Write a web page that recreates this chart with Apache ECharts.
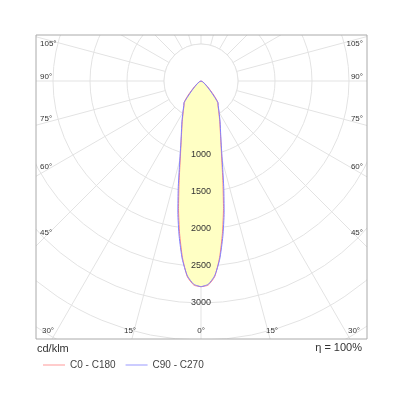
<!DOCTYPE html>
<html><head><meta charset="utf-8">
<script src="https://cdn.jsdelivr.net/npm/echarts@6/dist/echarts.min.js"></script>
<style>html,body{margin:0;background:#fff}#c{width:400px;height:400px}</style>
</head><body><div id="c"></div>
<script>
// half curves (gamma angle in degrees, cd/klm), mirrored for the other side
var gammaDeg = [0, 2, 4, 6, 8, 10, 12, 14, 16, 18, 20, 25, 30, 35, 38, 39, 90, 180];
var c0Vals   = [2780, 2760, 2650, 2400, 2080, 1750, 1430, 1180, 1000, 870, 770, 600, 480, 400, 370, 0, 0, 0];
var c90Vals  = [2780, 2750, 2640, 2420, 2120, 1800, 1480, 1210, 1020, 880, 780, 610, 490, 405, 372, 0, 0, 0];
var radialTicks = [1000, 1500, 2000, 2500, 3000];
var angleTicks = [0, 15, 30, 45, 60, 75, 90, 105];

var cx = 201, cy = 81, pxPer500 = 37, rMax = 5000;
var box = {x: 36, y: 35, w: 331, h: 304};

function curve(vals) {
  var pts = [];
  for (var i = 0; i < gammaDeg.length; i++) pts.push([vals[i], gammaDeg[i]]);
  for (var j = gammaDeg.length - 2; j >= 0; j--) pts.push([vals[j], 360 - gammaDeg[j]]);
  return pts;
}

var graphics = [];
var W = '#fff';
[[0, 0, 400, box.y], [0, box.y + box.h, 400, 400], [0, 0, box.x, 400], [box.x + box.w, 0, 400, 400]].forEach(function (r) {
  graphics.push({type: 'rect', z: 100, shape: {x: r[0], y: r[1], width: r[2], height: r[3]}, style: {fill: W}});
});
graphics.push({type: 'rect', z: 101, shape: {x: box.x, y: box.y, width: box.w, height: box.h}, style: {fill: 'none', stroke: '#aaa', lineWidth: 1}});
graphics.push({type: 'circle', z: 1, shape: {cx: cx, cy: cy, r: pxPer500}, style: {fill: '#fff', stroke: '#e3e3e3', lineWidth: 1}});
radialTicks.forEach(function (v) {
  graphics.push({type: 'text', z: 50, x: cx, y: cy + v / 500 * pxPer500, style: {text: String(v), fill: '#333', font: '9px Arial', textAlign: 'center', textVerticalAlign: 'middle'}});
});
var lf = '8px Arial';
angleTicks.forEach(function (a) {
  var t = a * Math.PI / 180, dx = Math.sin(t), dy = Math.cos(t);
  var bottom = box.y + box.h - 8;
  var right = box.x + box.w - 10;
  var y = cy + dy * ((right - cx) / (dx || 1e-9));
  if (dx === 0 || y > bottom) {
    var x = Math.min((bottom - cy) / dy * dx * 1.06, cx - box.x - 10);
    graphics.push({type: 'text', z: 102, x: cx + x, y: bottom, style: {text: a + '°', fill: '#333', font: lf, textAlign: 'center', textVerticalAlign: 'middle'}});
    if (a) graphics.push({type: 'text', z: 102, x: cx - x, y: bottom, style: {text: a + '°', fill: '#333', font: lf, textAlign: 'center', textVerticalAlign: 'middle'}});
  } else {
    y = Math.max(y - 4, box.y + 9);
    graphics.push({type: 'text', z: 102, x: box.x + 4, y: y, style: {text: a + '°', fill: '#333', font: lf, textAlign: 'left', textVerticalAlign: 'middle'}});
    graphics.push({type: 'text', z: 102, x: box.x + box.w - 4, y: y, style: {text: a + '°', fill: '#333', font: lf, textAlign: 'right', textVerticalAlign: 'middle'}});
  }
});
graphics.push({type: 'text', z: 102, x: 37, y: 349, style: {text: 'cd/klm', fill: '#333', font: '11px Arial', textVerticalAlign: 'middle'}});
graphics.push({type: 'text', z: 102, x: 362, y: 348, style: {text: 'η = 100%', fill: '#333', font: '11px Arial', textAlign: 'right', textVerticalAlign: 'middle'}});

var chart = echarts.init(document.getElementById('c'));
chart.setOption({
  animation: false,
  polar: {center: [cx, cy], radius: rMax / 500 * pxPer500},
  angleAxis: {
    type: 'value', min: 0, max: 360, interval: 15, startAngle: -90, clockwise: true,
    axisLine: {show: false}, axisTick: {show: false}, axisLabel: {show: false},
    splitLine: {lineStyle: {color: '#e3e3e3', width: 1}}
  },
  radiusAxis: {
    min: 0, max: rMax, interval: 500,
    axisLine: {show: false}, axisTick: {show: false}, axisLabel: {show: false},
    splitLine: {lineStyle: {color: '#e3e3e3', width: 1}}
  },
  legend: {
    left: 38, top: 355, itemWidth: 22, itemHeight: 1, itemGap: 10, icon: 'rect',
    textStyle: {fontSize: 10, color: '#444', fontFamily: 'Arial'},
    data: ['C0 - C180', 'C90 - C270'], z: 103
  },
  series: [
    {name: 'C0 - C180', type: 'line', coordinateSystem: 'polar', data: curve(c0Vals), showSymbol: false, z: 3, smooth: 0.2,
      lineStyle: {color: '#ff8080', width: 1}, itemStyle: {color: '#ff9999'}, areaStyle: {color: '#ffffc4', opacity: 1}},
    {name: 'C90 - C270', type: 'line', coordinateSystem: 'polar', data: curve(c90Vals), showSymbol: false, z: 4, smooth: 0.2,
      lineStyle: {color: '#8080ff', width: 1}, itemStyle: {color: '#9999ff'}}
  ],
  graphic: graphics
});
</script></body></html>
